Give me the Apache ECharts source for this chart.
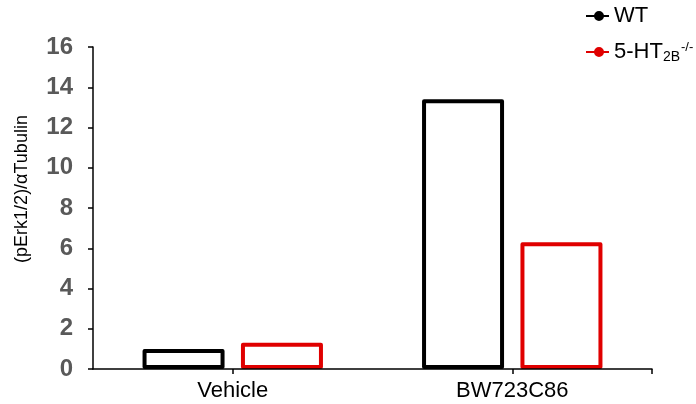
<!DOCTYPE html>
<html>
<head>
<meta charset="utf-8">
<script src="https://cdn.jsdelivr.net/npm/echarts@6/dist/echarts.min.js"></script>
<style>
  html, body { margin: 0; padding: 0; background: #fff; }
  #chart { width: 696px; height: 404px; }
</style>
</head>
<body>
<div id="chart"></div>
<script>
// Treatment groups and pErk1/2 / αTubulin ratios
const categories = ['Vehicle', 'BW723C86'];
const wtValues = [1.0, 13.4];
const koValues = [1.3, 6.3];
const seriesNames = ['WT', '5-HT2B-/-'];
const yTicks = { min: 0, max: 16, interval: 2 };

const FONT = '"Liberation Sans", Arial, sans-serif';
// legend glyph: short line with a solid dot in the middle
const lineDot = 'path://M0,5H9V7H0Z M17,5H23V7H17Z M8,6A5,5 0 1 1 18,6A5,5 0 1 1 8,6Z';

const chart = echarts.init(document.getElementById('chart'), null, { renderer: 'canvas' });

chart.setOption({
  animation: false,
  backgroundColor: '#fff',
  grid: { left: 93, right: 44, top: 47, bottom: 35, containLabel: false },
  legend: {
    orient: 'vertical',
    left: 586,
    top: 3,
    padding: 0,
    itemWidth: 23,
    itemHeight: 12,
    itemGap: 10,
    data: [
      { name: seriesNames[0], icon: lineDot, itemStyle: { color: '#000', borderWidth: 0 } },
      { name: seriesNames[1], icon: lineDot, itemStyle: { color: '#e00000', borderWidth: 0 } }
    ],
    formatter: function (name) {
      if (name === seriesNames[1]) return '5-HT{sub|2B}{sup|-/-}';
      return name;
    },
    textStyle: {
      fontFamily: FONT,
      fontSize: 22,
      color: '#000',
      lineHeight: 26,
      rich: {
        sub: { fontFamily: FONT, fontSize: 14, color: '#000', padding: [10, 0, 0, 0], lineHeight: 26 },
        sup: { fontFamily: FONT, fontSize: 13, color: '#000', padding: [0, 0, 10, 1], lineHeight: 26 }
      }
    }
  },
  xAxis: [
    {
      type: 'category',
      data: categories,
      z: 10,
      axisLine: { lineStyle: { color: '#000', width: 1.5 } },
      axisTick: { show: false },
      axisLabel: { fontFamily: FONT, fontSize: 22, color: '#000', margin: 11 },
      splitLine: { show: false }
    },
    {
      // tick marks under each group centre and at the right end
      type: 'value',
      position: 'bottom',
      min: 0,
      max: 2,
      z: 10,
      axisLine: { show: false },
      axisLabel: { show: false },
      splitLine: { show: false },
      axisTick: {
        show: true,
        length: 5,
        customValues: [0.5, 1.5, 2],
        lineStyle: { color: '#000', width: 1.5 }
      }
    }
  ],
  yAxis: {
    type: 'value',
    min: yTicks.min,
    max: yTicks.max,
    interval: yTicks.interval,
    z: 10,
    name: '(pErk1/2)/αTubulin',
    nameLocation: 'middle',
    nameGap: 62,
    nameTextStyle: { fontFamily: FONT, fontSize: 18, color: '#000', padding: [0, 0, 0, 38] },
    axisLine: { show: true, lineStyle: { color: '#000', width: 1.5 } },
    axisTick: { show: true, length: 5, lineStyle: { color: '#000', width: 1.5 } },
    axisLabel: { fontFamily: FONT, fontSize: 24, fontWeight: 'bold', color: '#595959', margin: 20 },
    splitLine: { show: false }
  },
  series: [
    {
      name: seriesNames[0],
      type: 'bar',
      xAxisIndex: 0,
      data: wtValues,
      barWidth: 82,
      barGap: '20%',
      itemStyle: { color: '#fff', borderColor: '#000', borderWidth: 4, borderJoin: 'round' }
    },
    {
      name: seriesNames[1],
      type: 'bar',
      xAxisIndex: 0,
      data: koValues,
      barWidth: 82,
      barGap: '20%',
      itemStyle: { color: '#fff', borderColor: '#e00000', borderWidth: 4, borderJoin: 'round' }
    }
  ]
});
</script>
</body>
</html>
